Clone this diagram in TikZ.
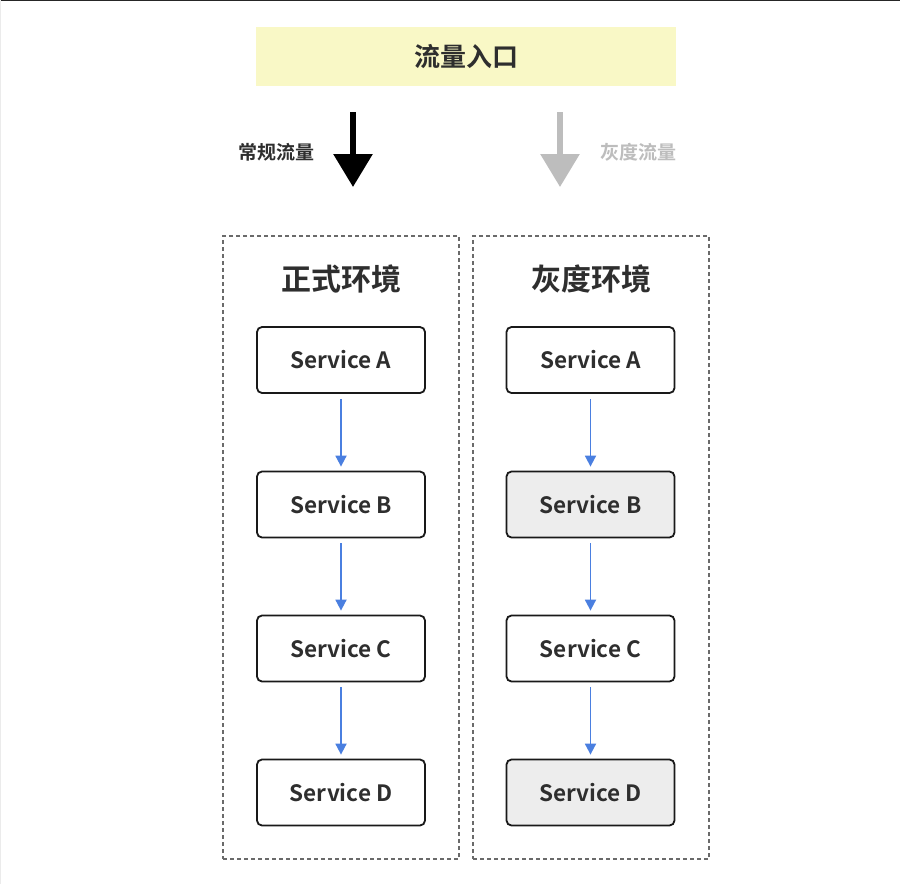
\documentclass[tikz,border=0pt]{standalone}
\usepackage{fontspec}
\setmainfont{Noto Sans CJK SC}[BoldFont={Noto Sans CJK SC Bold}]
\usetikzlibrary{arrows.meta}
\definecolor{entryfill}{HTML}{F9F8C6}
\definecolor{txt}{HTML}{2E2E2E}
\definecolor{graytxt}{HTML}{BDBDBD}
\definecolor{grayarrow}{HTML}{BDBDBD}
\definecolor{dashcol}{HTML}{6A6A6A}
\definecolor{svcgray}{HTML}{EDEDED}
\definecolor{bluearrow}{HTML}{4A7FE0}
\tikzset{
  svc/.style={draw=black!90, line width=1.8pt, rounded corners=5pt, minimum width=168pt, minimum height=66pt, inner sep=0pt, font=\bfseries\fontsize{22.5}{25}\selectfont, text=txt},
  svcwhite/.style={svc, fill=white},
  svcgrayb/.style={svc, fill=svcgray},
  envbox/.style={draw=dashcol, line width=1.4pt, dash pattern=on 4pt off 3pt, minimum width=236pt, minimum height=623pt, inner sep=0pt},
  envtitle/.style={font=\bfseries\fontsize{30}{34}\selectfont, text=txt},
  flow/.style={draw=bluearrow, line width=1.8pt, -{Triangle[length=11pt,width=11pt]}},
  bigarrow/.style={line width=6pt, -{Triangle[length=33pt,width=38pt]}, shorten >=0pt},
}
\begin{document}
\begin{tikzpicture}[x=1pt,y=-1pt]
\useasboundingbox (0,0) rectangle (900,884);
\fill[white] (0,0) rectangle (900,884);
\draw[black!85, line width=1.2pt] (0,0.6) -- (900,0.6);
\draw[black!8, line width=1pt] (0.5,0) -- (0.5,884);

% entry
\node[fill=entryfill, minimum width=420pt, minimum height=59pt, inner sep=0pt, font=\bfseries\fontsize{26}{29}\selectfont, text=txt] (entry) at (466,56.5) {流量入口};

% traffic arrows
\coordinate (bs) at (353,112);
\coordinate (be) at (353,187);
\draw[bigarrow, black] (bs) -- (be);
\node[font=\bfseries\fontsize{19}{22}\selectfont, text=txt] (lbl1) at (276,152) {常规流量};

\coordinate (gs) at (560,112);
\coordinate (ge) at (560,187);
\draw[bigarrow, grayarrow] (gs) -- (ge);
\node[font=\bfseries\fontsize{19}{22}\selectfont, text=graytxt] (lbl2) at (638,152) {灰度流量};

% environments
\node[envbox] (envL) at (341,547.5) {};
\node[envbox] (envR) at (591,547.5) {};
\node[envtitle] (tL) at (341,279) {正式环境};
\node[envtitle] (tR) at (591,279) {灰度环境};

% left services
\node[svcwhite] (LA) at (341,360) {Service A};
\node[svcwhite] (LB) at (341,504.5) {Service B};
\node[svcwhite] (LC) at (341,648.5) {Service C};
\node[svcwhite] (LD) at (341,792.5) {Service D};

% right services
\node[svcwhite] (RA) at (590.5,360) {Service A};
\node[svcgrayb] (RB) at (590.5,504.5) {Service B};
\node[svcwhite] (RC) at (590.5,648.5) {Service C};
\node[svcgrayb] (RD) at (590.5,792.5) {Service D};

\draw[flow] ([yshift=-5pt]LA.south) -- ([yshift=4pt]LB.north);
\draw[flow] ([yshift=-5pt]LB.south) -- ([yshift=4pt]LC.north);
\draw[flow] ([yshift=-5pt]LC.south) -- ([yshift=4pt]LD.north);
\draw[flow] ([yshift=-5pt]RA.south) -- ([yshift=4pt]RB.north);
\draw[flow] ([yshift=-5pt]RB.south) -- ([yshift=4pt]RC.north);
\draw[flow] ([yshift=-5pt]RC.south) -- ([yshift=4pt]RD.north);
\end{tikzpicture}
\end{document}
